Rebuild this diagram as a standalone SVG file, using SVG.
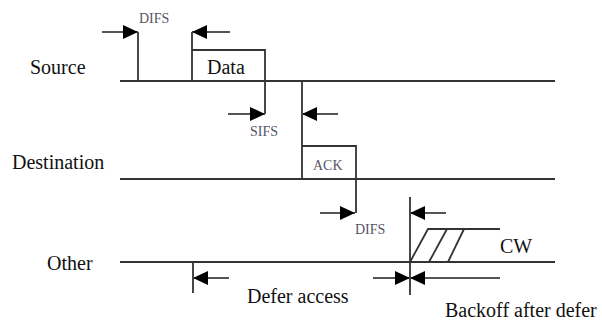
<svg xmlns="http://www.w3.org/2000/svg" width="602" height="321" viewBox="0 0 602 321">
<style>
.ln{stroke:#333;stroke-width:1.8;fill:none}
.ar{stroke:#555;stroke-width:2;fill:none;marker-end:url(#ah)}
.big{font-family:"Liberation Serif",serif;font-size:20px;fill:#111}
.sm{font-family:"Liberation Serif",serif;font-size:14px;fill:#556}
</style>
<defs>
<marker id="ah" viewBox="0 0 15 14" refX="15" refY="7" markerWidth="15" markerHeight="14" markerUnits="userSpaceOnUse" orient="auto"><path d="M0,0 L15,7 L0,14 z" fill="#000"/></marker>
</defs>
<rect width="602" height="321" fill="#fff"/>
<g id="source">
<text class="big" x="30" y="74">Source</text>
<line class="ln" x1="120" y1="81" x2="555" y2="81"/>
<line class="ln" x1="138" y1="32" x2="138" y2="81"/>
<path class="ln" d="M192,32 V81 M192,50 H265 V114"/>
<text class="big" x="207" y="74">Data</text>
</g>
<g id="destination">
<text class="big" x="12" y="169">Destination</text>
<line class="ln" x1="120" y1="179" x2="555" y2="179"/>
<path class="ln" d="M302,81 V179 M302,146 H356 V213"/>
<text class="sm" x="313" y="170">ACK</text>
</g>
<g id="other">
<text class="big" x="47" y="270">Other</text>
<line class="ln" x1="120" y1="262" x2="555" y2="262"/>
<line class="ln" x1="410" y1="197" x2="410" y2="295"/>
<line class="ln" x1="193" y1="262" x2="193" y2="293"/>
<path class="ln" d="M410,262 L428,229 H500 M429,262 L447,229 M448,262 L464,229"/>
<text class="big" x="500" y="253">CW</text>
</g>
<g id="connectors">
<line class="ar" x1="102" y1="32" x2="138" y2="32"/>
<line class="ar" x1="230" y1="32" x2="192" y2="32"/>
<line class="ar" x1="228" y1="114" x2="265" y2="114"/>
<line class="ar" x1="338" y1="114" x2="302" y2="114"/>
<line class="ar" x1="320" y1="213" x2="355" y2="213"/>
<line class="ar" x1="446" y1="213" x2="410" y2="213"/>
<line class="ar" x1="229" y1="278" x2="193" y2="278"/>
<line class="ar" x1="373" y1="278" x2="410" y2="278"/>
<line class="ar" x1="500" y1="278" x2="410" y2="278"/>
</g>
<g id="labels">
<text class="sm" x="139" y="23">DIFS</text>
<text class="sm" x="250" y="136">SIFS</text>
<text class="sm" x="355" y="234">DIFS</text>
<text class="big" x="247" y="303">Defer access</text>
<text class="big" x="445" y="317">Backoff after defer</text>
</g>
</svg>
